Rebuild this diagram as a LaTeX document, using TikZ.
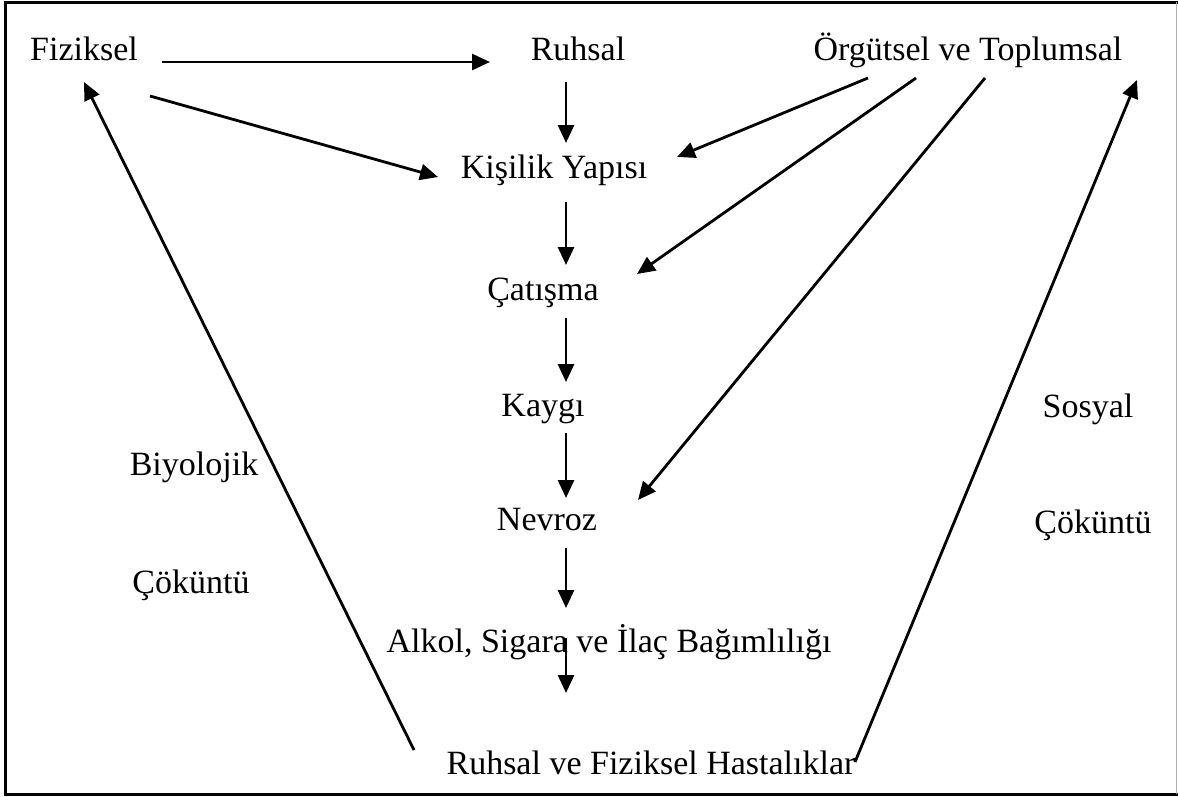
\documentclass[tikz,border=0pt]{standalone}
\usepackage{fontspec}
\setmainfont{Liberation Serif}
\usetikzlibrary{arrows.meta}
\begin{document}
\begin{tikzpicture}[x=1pt,y=-1pt,
  lbl/.style={inner sep=0pt,anchor=base,font=\fontsize{34}{40}\selectfont},
  arr/.style={line width=2.8pt,-{Triangle[length=18pt,width=16pt]}}]
\useasboundingbox (0,0) rectangle (1178,796);
\fill[white] (0,0) rectangle (1178,796);
% frame
\draw[line width=3pt] (1178,2) -- (5,2) -- (5,794) -- (1178,794);
\draw[line width=1.2pt,gray!60] (1176.5,2) -- (1176.5,794);

% labels
\node[lbl] (fiz) at (84,60) {Fiziksel};
\node[lbl] (ruh) at (578,60) {Ruhsal};
\node[lbl] (org) at (968,60) {Örgütsel ve Toplumsal};
\node[lbl] (kis) at (554,178) {Kişilik Yapısı};
\node[lbl] (cat) at (543,300) {Çatışma};
\node[lbl] (kay) at (543,416) {Kaygı};
\node[lbl] (nev) at (547,530) {Nevroz};
\node[lbl] (alk) at (609,652) {Alkol, Sigara ve İlaç Bağımlılığı};
\node[lbl] (has) at (651,774) {Ruhsal ve Fiziksel Hastalıklar};
\node[lbl] (biy) at (194,475) {Biyolojik};
\node[lbl] (cok1) at (191,593) {Çöküntü};
\node[lbl] (sos) at (1088,417) {Sosyal};
\node[lbl] (cok2) at (1093,533) {Çöküntü};

% connectors
\draw[arr] ([shift={(78,2)}]fiz.base) -- ([shift={(-88,2)}]ruh.base);
\draw[arr] ([shift={(66,36)}]fiz.base) -- ([shift={(-116,-1)}]kis.base);
\draw[arr] ([shift={(-12,22)}]ruh.base) -- ([shift={(12,-35)}]kis.base);
\draw[arr] ([shift={(12,24)}]kis.base) -- ([shift={(23,-35)}]cat.base);
\draw[arr] ([shift={(23,18)}]cat.base) -- ([shift={(23,-34)}]kay.base);
\draw[arr] ([shift={(23,17)}]kay.base) -- ([shift={(19,-32)}]nev.base);
\draw[arr] ([shift={(19,18)}]nev.base) -- ([shift={(-43,-44)}]alk.base);
\draw[arr] ([shift={(-43,-14)}]alk.base) -- ([shift={(-85,-81)}]has.base);
\draw[arr] ([shift={(-100,18)}]org.base) -- ([shift={(123,-21)}]kis.base);
\draw[arr] ([shift={(-52,18)}]org.base) -- ([shift={(94,-26)}]cat.base);
\draw[arr] ([shift={(17,18)}]org.base) -- ([shift={(91,-30)}]nev.base);
\draw[arr] ([shift={(204,-12)}]has.base) -- ([shift={(169,20)}]org.base);
\draw[arr] ([shift={(-237,-24)}]has.base) -- ([shift={(0,22)}]fiz.base);
\end{tikzpicture}
\end{document}
